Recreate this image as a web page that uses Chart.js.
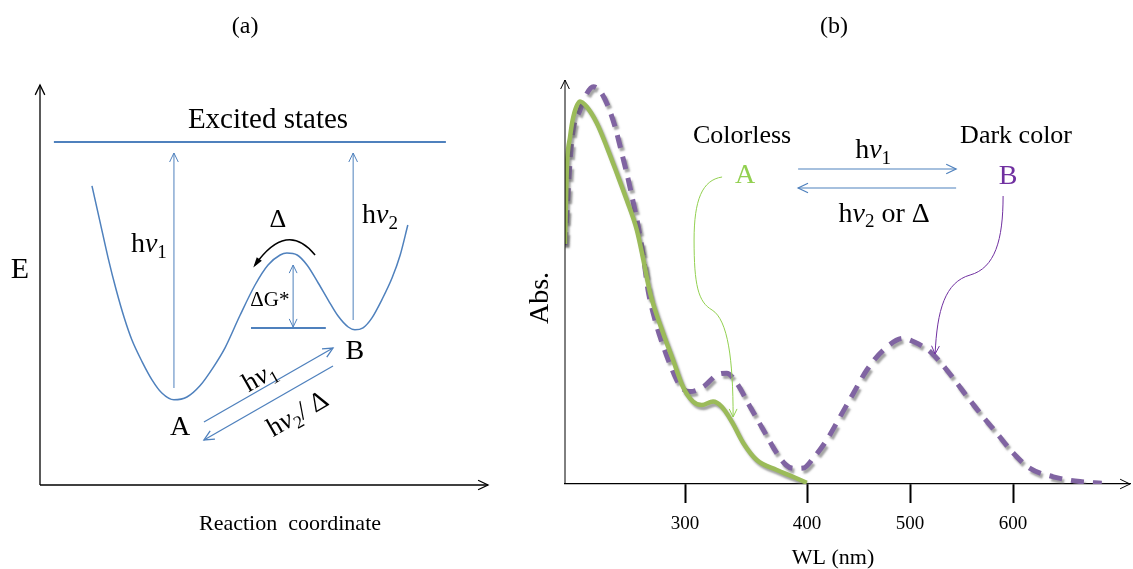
<!DOCTYPE html>
<html>
<head>
<meta charset="utf-8">
<script src="https://cdn.jsdelivr.net/npm/chart.js@4"></script>
<style>
  html, body { margin: 0; padding: 0; background: #fff; }
  #wrap { position: relative; width: 1133px; height: 569px; }
  canvas { position: absolute; top: 0; }
  #chartA { left: 0; }
  #chartB { left: 500px; }
</style>
</head>
<body>
<div id="wrap">
  <canvas id="chartA" width="500" height="569"></canvas>
  <canvas id="chartB" width="633" height="569"></canvas>
</div>
<script>
// (a) double well: reaction coordinate vs energy (arbitrary units)
const wellX = [11.6, 13.4, 15.2, 17.0, 18.8, 20.5, 22.8, 25.0, 27.2, 29.9, 32.8, 35.7, 38.6, 41.3, 44.6, 48.0,
               50.9, 53.6, 55.1, 57.4, 59.6, 62.1, 64.3, 66.5, 68.8, 70.3, 72.1, 74.1, 76.3, 78.6, 80.4, 82.1];
const wellE = [74.8, 65.8, 56.8, 48.8, 41.8, 36.3, 30.8, 26.3, 23.0, 21.3, 22.0, 24.8, 29.3, 34.3, 42.3, 50.0,
               55.0, 57.5, 58.0, 57.5, 55.0, 50.5, 46.3, 42.3, 39.5, 38.8, 39.3, 41.8, 46.3, 51.8, 57.5, 65.0];

// (b) absorption spectra, A (colorless) and B (dark color)
const wlA  = [165, 166.7, 169.9, 173.1, 179.6, 186.1, 195.8, 205.5, 215.2, 224.9, 234.7, 241.1, 247.6,
              260.2, 269.9, 279.6, 289.3, 297.8, 308.7, 317.2, 326.9, 338.2, 351.2, 370.6, 386.4, 399.7];
const absA = [0.60, 0.785, 0.8675, 0.918, 0.956, 0.943, 0.9025, 0.843, 0.7775, 0.71, 0.635, 0.56, 0.4775,
              0.3775, 0.31, 0.2425, 0.206, 0.1975, 0.206, 0.193, 0.156, 0.102, 0.06, 0.035, 0.018, 0.003];
const wlB  = [165, 171.6, 179.6, 185.4, 192.5, 199.0, 206.3, 213.6, 220.1, 226.5, 231.4, 236.2, 241.1, 245.6,
              252.4, 257.3, 265.3, 273.5, 279.6, 286.4, 299.3, 312.3, 322.0, 331.7, 344.7, 357.6, 370.6, 379.6,
              386.7, 396.4, 406.1, 419.1, 432.0, 445.0, 458.0, 474.1, 493.5, 503.2, 519.4, 535.6, 551.7, 568.0,
              584.2, 600.3, 616.5, 639.1, 665.0, 686.1];
const absB = [0.5975, 0.86, 0.935, 0.9725, 0.993, 0.9825, 0.9475, 0.893, 0.8275, 0.76, 0.7025, 0.643, 0.568, 0.485,
              0.41, 0.368, 0.31, 0.26, 0.2375, 0.231, 0.243, 0.2725, 0.277, 0.252, 0.193, 0.135, 0.077, 0.0475,
              0.039, 0.04, 0.065, 0.11, 0.168, 0.227, 0.285, 0.335, 0.364, 0.356, 0.331, 0.285, 0.231, 0.177,
              0.127, 0.077, 0.039, 0.018, 0.006, 0.002];

// x ticks of (b) (the 300 mark sits off the linear spacing in the original)
const tickPos    = [281.6, 400, 500, 600];
const tickLabels = ['300', '400', '500', '600'];

const serif = '"Liberation Serif", "Times New Roman", serif';
const blue = '#4f81bd';
const green = '#9bbb59';
const purple = '#8064a2';

Chart.defaults.font.family = serif;

// --- small drawing helpers ---
function seg(ctx, p, q) {
  ctx.beginPath(); ctx.moveTo(p[0], p[1]); ctx.lineTo(q[0], q[1]); ctx.stroke();
}
function head(ctx, from, to, size) {
  const a = Math.atan2(to[1] - from[1], to[0] - from[0]);
  ctx.beginPath();
  ctx.moveTo(to[0] - size * Math.cos(a - 0.45), to[1] - size * Math.sin(a - 0.45));
  ctx.lineTo(to[0], to[1]);
  ctx.lineTo(to[0] - size * Math.cos(a + 0.45), to[1] - size * Math.sin(a + 0.45));
  ctx.stroke();
}
function arrow(ctx, p, q, size, both) {
  seg(ctx, p, q);
  head(ctx, p, q, size || 9);
  if (both) head(ctx, q, p, size || 9);
}
function text(ctx, s, p, size, color, align) {
  ctx.font = size + 'px ' + serif;
  ctx.fillStyle = color || '#000';
  ctx.textAlign = align || 'center';
  ctx.textBaseline = 'middle';
  ctx.fillText(s, p[0], p[1]);
}
// "hν" with subscript, y is the baseline
function hnu(ctx, x, y, sub, size, tail, align) {
  const fN = size + 'px ' + serif, fI = 'italic ' + size + 'px ' + serif;
  const fS = Math.round(size * 0.68) + 'px ' + serif;
  ctx.font = fN; const wh = ctx.measureText('h').width;
  ctx.font = fI; const wv = ctx.measureText('ν').width;
  ctx.font = fS; const ws = ctx.measureText(sub).width;
  ctx.font = fN; const wt = tail ? ctx.measureText(tail).width : 0;
  const x0 = align === 'left' ? x : x - (wh + wv + ws + wt) / 2;
  ctx.fillStyle = '#000'; ctx.textAlign = 'left'; ctx.textBaseline = 'alphabetic';
  ctx.font = fN; ctx.fillText('h', x0, y);
  ctx.font = fI; ctx.fillText('ν', x0 + wh, y);
  ctx.font = fS; ctx.fillText(sub, x0 + wh + wv, y + size * 0.2);
  if (tail) { ctx.font = fN; ctx.fillText(tail, x0 + wh + wv + ws, y); }
}
function curve(ctx, pts) {
  ctx.beginPath();
  ctx.moveTo(pts[0][0], pts[0][1]);
  for (let i = 1; i < pts.length; i += 3) {
    ctx.bezierCurveTo(pts[i][0], pts[i][1], pts[i + 1][0], pts[i + 1][1], pts[i + 2][0], pts[i + 2][1]);
  }
  ctx.stroke();
  head(ctx, pts[pts.length - 2], pts[pts.length - 1], 9);
}

// grey drop shadow under the spectra
const shadow = {
  id: 'shadow',
  beforeDatasetDraw(chart) {
    const ctx = chart.ctx;
    ctx.save();
    ctx.shadowColor = 'rgba(90,90,90,0.55)';
    ctx.shadowBlur = 2;
    ctx.shadowOffsetX = 2;
    ctx.shadowOffsetY = 3;
  },
  afterDatasetDraw(chart) { chart.ctx.restore(); }
};

const annotateA = {
  id: 'annotateA',
  afterDatasetsDraw(chart) {
    const { ctx, scales: { x, y } } = chart;
    const P = (a, b) => [x.getPixelForValue(a), y.getPixelForValue(b)];
    ctx.save();
    // axes
    ctx.strokeStyle = '#000'; ctx.lineWidth = 1.3;
    arrow(ctx, P(0, 0), P(100, 0), 11);
    arrow(ctx, P(0, 0), P(0, 100), 11);
    // excited states level
    ctx.strokeStyle = blue; ctx.lineWidth = 2;
    seg(ctx, P(3.1, 85.75), P(90.6, 85.75));
    seg(ctx, P(47.1, 39.25), P(63.8, 39.25));
    // vertical excitations and barrier
    ctx.lineWidth = 1;
    arrow(ctx, P(29.9, 24.25), P(29.9, 83), 10);
    arrow(ctx, P(69.9, 41.25), P(69.9, 83), 10);
    arrow(ctx, P(56.5, 39.5), P(56.5, 55), 9, true);
    // A <-> B
    ctx.lineWidth = 1.3;
    const f1 = P(36.6, 15.75), f2 = P(65.4, 34.25);
    arrow(ctx, f1, f2, 11);
    arrow(ctx, P(65.4, 29.75), P(36.6, 11.25), 11);
    // thermal back reaction
    ctx.strokeStyle = '#000'; ctx.lineWidth = 1.5;
    const c0 = P(61.4, 57.5), cc = P(55.1, 66.25), c1 = P(48.0, 55);
    ctx.beginPath(); ctx.moveTo(c0[0], c0[1]); ctx.quadraticCurveTo(cc[0], cc[1], c1[0], c1[1]); ctx.stroke();
    ctx.fillStyle = '#000';
    const a = Math.atan2(c1[1] - cc[1], c1[0] - cc[0]);
    ctx.beginPath();
    ctx.moveTo(c1[0] + 3 * Math.cos(a), c1[1] + 3 * Math.sin(a));
    ctx.lineTo(c1[0] - 8 * Math.cos(a - 0.4), c1[1] - 8 * Math.sin(a - 0.4));
    ctx.lineTo(c1[0] - 8 * Math.cos(a + 0.4), c1[1] - 8 * Math.sin(a + 0.4));
    ctx.closePath(); ctx.fill();

    // labels
    text(ctx, '(a)', P(45.8, 114.5), 24);
    text(ctx, 'Excited states', P(50.9, 91.25), 29);
    text(ctx, 'E', P(-4.46, 53.75), 30);
    text(ctx, 'Reaction  coordinate', P(55.8, -9.75), 22);
    text(ctx, 'Δ', P(53.1, 66.25), 26);
    text(ctx, 'ΔG*', P(51.3, 46.25), 21);
    text(ctx, 'A', P(31.25, 14.25), 28);
    text(ctx, 'B', P(70.3, 33.25), 28);
    const h1 = P(24.3, 58.25); hnu(ctx, h1[0], h1[1], '1', 28, '', 'center');
    const h2 = P(71.9, 65.5); hnu(ctx, h2[0], h2[1], '2', 28, '', 'left');
    const ang = Math.atan2(f2[1] - f1[1], f2[0] - f1[0]);
    const r1 = P(48.9, 27.25), r2 = P(57.4, 18);
    ctx.save(); ctx.translate(r1[0], r1[1]); ctx.rotate(ang); hnu(ctx, 0, 9, '1', 27, '', 'center'); ctx.restore();
    ctx.save(); ctx.translate(r2[0], r2[1]); ctx.rotate(ang); hnu(ctx, 0, 9, '2', 27, '/ Δ', 'center'); ctx.restore();
    ctx.restore();
  }
};

const annotateB = {
  id: 'annotateB',
  afterDatasetsDraw(chart) {
    const { ctx, scales: { x, y } } = chart;
    const P = (a, b) => [x.getPixelForValue(a), y.getPixelForValue(b)];
    ctx.save();
    // y axis and x arrow tip
    ctx.strokeStyle = '#000'; ctx.lineWidth = 1;
    arrow(ctx, P(165, 0), P(165, 1.01), 10);
    head(ctx, P(165, 0), P(713.5, 0), 11);
    // A <-> B photochromic arrows
    ctx.strokeStyle = blue; ctx.lineWidth = 1.2;
    arrow(ctx, P(391.3, 0.7875), P(544.7, 0.7875), 11);
    arrow(ctx, P(544.7, 0.74), P(391.3, 0.74), 11);
    // pointers to the bands
    ctx.lineWidth = 1;
    ctx.strokeStyle = '#92d050';
    curve(ctx, [P(317.5, 0.7675), P(298.1, 0.76), P(290.3, 0.71), P(290.3, 0.61),
                P(290.3, 0.4975), P(294.2, 0.455), P(307.8, 0.435),
                P(323.3, 0.41), P(328.2, 0.31), P(328.2, 0.1675)]);
    ctx.strokeStyle = '#7030a0';
    curve(ctx, [P(590.3, 0.72), P(590.3, 0.61), P(582.5, 0.54), P(558.3, 0.5225),
                P(534.0, 0.505), P(526.2, 0.435), P(524.3, 0.325)]);
    // labels
    text(ctx, '(b)', P(426.2, 1.1425), 24);
    text(ctx, 'Colorless', P(336.9, 0.87), 26);
    text(ctx, 'Dark color', P(602.9, 0.87), 26);
    text(ctx, 'A', P(339.8, 0.77), 28, '#92d050');
    text(ctx, 'B', P(595.1, 0.7675), 28, '#7030a0');
    const t1 = P(464.1, 0.815); hnu(ctx, t1[0], t1[1], '1', 28, '', 'center');
    const t2 = P(474.8, 0.656); hnu(ctx, t2[0], t2[1], '2', 28, ' or Δ', 'center');
    text(ctx, 'WL (nm)', P(425.2, -0.185), 22);
    const ab = P(141.7, 0.465);
    ctx.save(); ctx.translate(ab[0], ab[1]); ctx.rotate(-Math.PI / 2); text(ctx, 'Abs.', [0, 0], 28); ctx.restore();
    ctx.restore();
  }
};

new Chart(document.getElementById('chartA'), {
  type: 'line',
  data: {
    datasets: [{
      data: wellX.map((v, i) => ({ x: v, y: wellE[i] })),
      borderColor: blue,
      borderWidth: 1.5,
      pointRadius: 0,
      cubicInterpolationMode: 'monotone',
      clip: false
    }]
  },
  options: {
    responsive: false,
    animation: false,
    layout: { padding: { left: 40, right: 12, top: 85, bottom: 84 } },
    plugins: { legend: { display: false }, tooltip: { enabled: false } },
    scales: {
      x: { type: 'linear', min: 0, max: 100, display: false },
      y: { type: 'linear', min: 0, max: 100, display: false }
    }
  },
  plugins: [annotateA]
});

new Chart(document.getElementById('chartB'), {
  type: 'line',
  data: {
    datasets: [{
      label: 'A',
      data: wlA.map((v, i) => ({ x: v, y: absA[i] })),
      borderColor: green,
      borderWidth: 4.5,
      pointRadius: 0,
      cubicInterpolationMode: 'monotone'
    }, {
      label: 'B',
      data: wlB.map((v, i) => ({ x: v, y: absB[i] })),
      borderColor: purple,
      borderWidth: 5,
      borderDash: [13, 9],
      pointRadius: 0,
      cubicInterpolationMode: 'monotone'
    }]
  },
  options: {
    responsive: false,
    animation: false,
    layout: { padding: { left: 65, right: 3, top: 80, bottom: 0 } },
    plugins: { legend: { display: false }, tooltip: { enabled: false } },
    scales: {
      x: {
        type: 'linear', min: 165, max: 713.5,
        afterBuildTicks: s => { s.ticks = tickPos.map(v => ({ value: v })); },
        afterFit: s => { s.height = 85; },
        ticks: {
          autoSkip: false, maxRotation: 0, padding: 10, color: '#000',
          font: { size: 19 },
          callback: (v, i) => tickLabels[i]
        },
        grid: { drawOnChartArea: false, tickLength: 19, tickWidth: 2, tickColor: '#000' },
        border: { color: '#000', width: 1.2 }
      },
      y: { type: 'linear', min: 0, max: 1.01, display: false }
    }
  },
  plugins: [shadow, annotateB]
});
</script>
</body>
</html>
